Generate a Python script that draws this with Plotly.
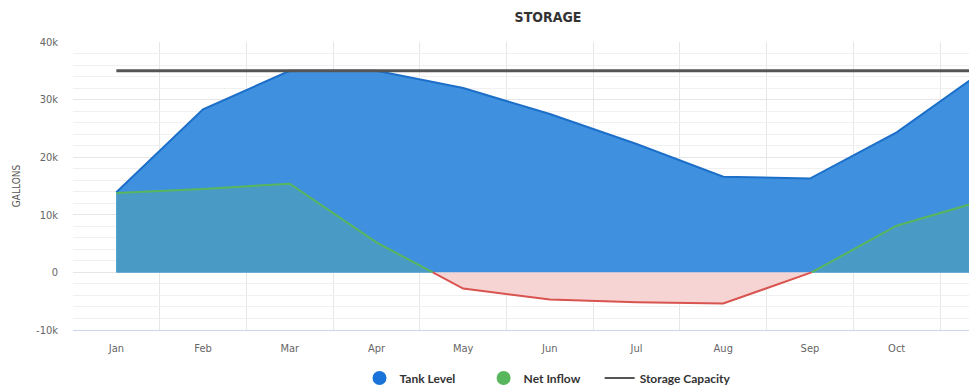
import plotly.graph_objects as go

# Monthly storage data (gallons)
months = ["Jan", "Feb", "Mar", "Apr", "May", "Jun", "Jul", "Aug", "Sep", "Oct", "Nov"]
tank_level = [13900, 28300, 35000, 35000, 32000, 27500, 22300, 16600, 16300, 24300, 35000]
net_inflow = [13800, 14500, 15400, 5200, -2800, -4700, -5200, -5400, -150, 8100, 12500]
storage_capacity = [35000] * len(months)

y_tickvals = [-10000, 0, 10000, 20000, 30000, 40000]
y_ticktext = ["-10k", "0", "10k", "20k", "30k", "40k"]

BLUE_FILL = "rgb(63,145,224)"
BLUE_LINE = "rgb(28,111,201)"
GREEN = "rgb(88,182,92)"
TEAL_FILL = "rgb(73,155,198)"
RED = "rgb(217,83,79)"
PINK_FILL = "rgb(247,212,212)"

xs = list(range(len(months)))

# Split net inflow into positive / negative runs, joined at the zero crossings
pos_x, pos_y, neg_x, neg_y = [], [], [], []
for i, v in enumerate(net_inflow):
    if i > 0:
        p = net_inflow[i - 1]
        if (p >= 0) != (v >= 0):
            xc = (i - 1) + p / (p - v)
            if p >= 0:
                pos_x += [xc, None]; pos_y += [0, None]
                neg_x += [xc]; neg_y += [0]
            else:
                neg_x += [xc, None]; neg_y += [0, None]
                pos_x += [xc]; pos_y += [0]
    if v >= 0:
        pos_x.append(i); pos_y.append(v)
    else:
        neg_x.append(i); neg_y.append(v)

fig = go.Figure()

fig.add_trace(go.Scatter(
    x=xs, y=tank_level, mode="lines", fill="tozeroy",
    fillcolor=BLUE_FILL, line=dict(color=BLUE_LINE, width=2),
    showlegend=False, hoverinfo="skip"))

fig.add_trace(go.Scatter(
    x=pos_x, y=pos_y, mode="lines", fill="tozeroy",
    fillcolor=TEAL_FILL, line=dict(color=GREEN, width=2),
    showlegend=False, hoverinfo="skip"))

fig.add_trace(go.Scatter(
    x=neg_x, y=neg_y, mode="lines", fill="tozeroy",
    fillcolor=PINK_FILL, line=dict(color=RED, width=2),
    showlegend=False, hoverinfo="skip"))

fig.add_trace(go.Scatter(
    x=xs, y=storage_capacity, mode="lines",
    line=dict(color="#555555", width=3),
    name="Storage Capacity", showlegend=False, hoverinfo="skip"))

# Legend entries (non-breaking spaces widen the gap between entries)
NBSP = "\u00a0"
fig.add_trace(go.Scatter(x=[None], y=[None], mode="markers", name="Tank Level" + NBSP * 8,
                         marker=dict(symbol="circle", size=14, color="rgb(26,115,217)")))
fig.add_trace(go.Scatter(x=[None], y=[None], mode="markers", name="Net Inflow" + NBSP * 5,
                         marker=dict(symbol="circle", size=14, color=GREEN)))
fig.add_trace(go.Scatter(x=[None], y=[None], mode="lines", name="Storage Capacity",
                         line=dict(color="#555555", width=2)))

fig.update_layout(
    width=969, height=391,
    margin=dict(l=73, r=0, t=42, b=61),
    paper_bgcolor="white", plot_bgcolor="white",
    title=dict(text="<b>STORAGE</b>", x=548 / 969, xanchor="center",
               y=1 - 17 / 391, yanchor="middle",
               font=dict(family="DejaVu Sans Condensed", size=14, color="#333333")),
    legend=dict(orientation="h", xref="container", yref="container",
                x=548 / 969, xanchor="center",
                y=1 - 378 / 391, yanchor="middle",
                font=dict(family="Lato", size=12, color="#333333", weight="bold"),
                itemwidth=30, tracegroupgap=0),
    font=dict(family="DejaVu Sans Condensed", size=11, color="#666666"),
)

fig.update_xaxes(
    range=[-0.5, -0.5 + 896 / 86.7],
    tickvals=xs, ticktext=months,
    showgrid=False, zeroline=False,
    showline=True, linecolor="#ccd6eb", linewidth=1,
    ticks="", ticklabelstandoff=8,
    minor=dict(tick0=0.5, dtick=1, showgrid=True, gridcolor="#e6e6e6", gridwidth=1),
    tickfont=dict(family="DejaVu Sans Condensed", size=11, color="#666666"),
)

fig.update_yaxes(
    range=[-10000, 40000],
    tickvals=y_tickvals, ticktext=y_ticktext,
    showgrid=True, gridcolor="#e6e6e6", gridwidth=1,
    zeroline=False, showline=False, ticks="",
    ticklabelstandoff=14,
    minor=dict(dtick=2000, showgrid=True, gridcolor="#f0f0f0", gridwidth=1),
    title=dict(text="GALLONS", standoff=13,
               font=dict(family="DejaVu Sans Condensed", size=10, color="#555555")),
    tickfont=dict(family="DejaVu Sans Condensed", size=11, color="#666666"),
)

fig.write_html("out.html")
